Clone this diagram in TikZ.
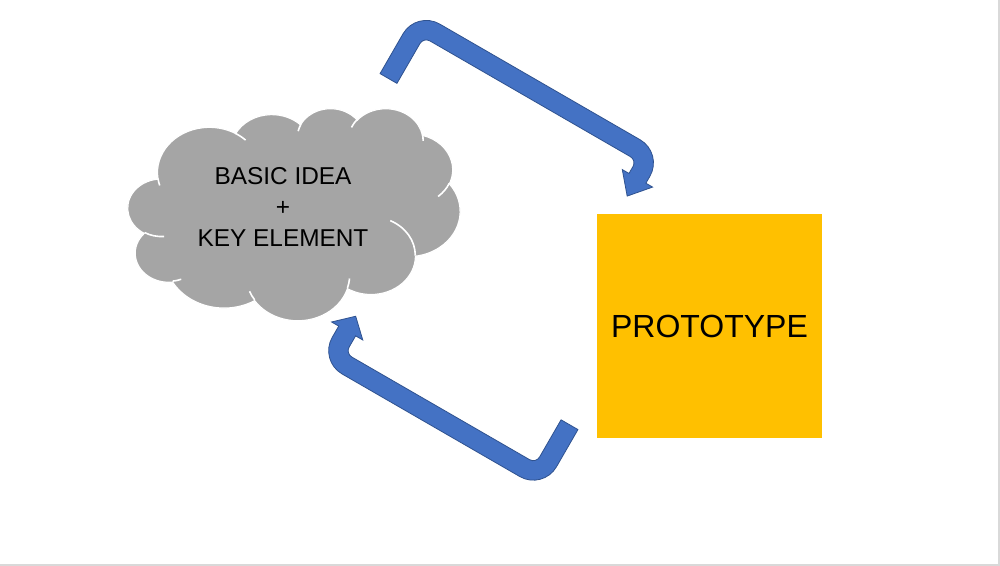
\documentclass[tikz,border=0pt]{standalone}
\usepackage{fontspec}
\setmainfont{Liberation Sans}
\definecolor{cloudgray}{HTML}{A5A5A5}
\definecolor{protoyellow}{HTML}{FFC000}
\definecolor{arrowblue}{HTML}{4472C4}
\definecolor{arrowedge}{HTML}{2F528F}
\definecolor{slideedge}{HTML}{D9D9D9}
\tikzset{
  ooarc/.style n args={4}{x radius=#1pt, y radius=#2pt,
    start angle={atan2((#1)*sin(#3),(#2)*cos(#3))},
    delta angle={mod(atan2((#1)*sin((#3)+(#4)),(#2)*cos((#3)+(#4)))-atan2((#1)*sin(#3),(#2)*cos(#3))+720,360)}},
  cloudfill/.style={fill=cloudgray, draw=white, line width=0.6pt},
  cloudline/.style={draw=white, line width=0.8pt},
  arrowshape/.style={fill=arrowblue, draw=arrowedge, line width=0.4pt},
  labeltext/.style={font=\fontsize{12.2}{15.5}\selectfont, align=center, text=black},
  protobox/.style={fill=protoyellow, minimum width=112.5pt, minimum height=112pt, inner sep=0pt,
    font=\fontsize{16}{19}\selectfont},
}
% U-turn arrow: #1 origin, #2 rotation, #3 segment height, #4 head x, #5 head base, #6 tip, #7 head half width
\newcommand\uturnarrow[7]{%
  \begin{scope}[shift={#1}, rotate=#2]
    \path[arrowshape] (-9.75,0) -- (9.75,0) -- (9.75,#3-17) arc[start angle=180,end angle=90,radius=3.625pt]
      -- (#4-17,#3-9.75) arc[start angle=90,end angle=0,radius=3.625pt]
      -- (#4-9.75,#5) -- (#4-#7,#5) -- (#4,#6) -- (#4+#7,#5) -- (#4+9.75,#5)
      -- (#4+9.75,#3-17) arc[start angle=0,end angle=90,radius=13.375pt]
      -- (17,#3+9.75) arc[start angle=90,end angle=180,radius=13.375pt] -- cycle;
  \end{scope}}
\begin{document}
\begin{tikzpicture}[x=0.5pt, y=0.5pt]
\fill[white] (0,0) rectangle (1000,-566);
\useasboundingbox (0,0) rectangle (1000,-566);
\fill[slideedge] (998,0) rectangle (1000,-566);
\fill[slideedge] (0,-564) rectangle (1000,-566);

% cloud
\begin{scope}[shift={(128,-108)}, xscale=0.38426, yscale=-0.24537]
  \path[cloudfill] (39pt,143.7pt)
    arc[ooarc={67.53}{91.90}{-190.48748}{123.78053}]
    arc[ooarc={53.33}{72.67}{-144.10238}{89.94523}]
    arc[ooarc={43.65}{59.45}{-145.80792}{99.72302}]
    arc[ooarc={48.57}{65.95}{-130.98607}{117.24173}]
    arc[ooarc={53.33}{72.73}{-78.70888}{109.02692}]
    arc[ooarc={67.75}{92.20}{-46.26725}{130.269}]
    arc[ooarc={57.85}{78.67}{0.62502}{114.03333}]
    arc[ooarc={67.52}{92.15}{22.4516}{115.17255}]
    arc[ooarc={77.20}{105.43}{66.24263}{75.71102}]
    arc[ooarc={43.60}{59.18}{-274.94208}{146.73557}]
    arc[ooarc={43.45}{59.45}{-246.8285}{152.51885}] -- cycle;
  \path[cloudline] (46.93pt,261.77pt) arc[ooarc={43.45}{59.45}{86.742}{26.4295}];
  \path[cloudline] (69.28pt,348.99pt) arc[ooarc={43.60}{59.18}{73.61047}{11.44747}];
  \path[cloudline] (164.78pt,390.90pt) arc[ooarc={67.52}{92.15}{137.62415}{14.0811}];
  \path[cloudline] (288.27pt,347.51pt) arc[ooarc={67.52}{92.15}{6.45327}{15.99835}];
  \path[cloudline] (341.29pt,229.54pt) arc[ooarc={57.85}{78.67}{-70.29235}{70.91737}];
  \path[cloudline] (417.98pt,153.54pt) arc[ooarc={53.33}{72.73}{30.31803}{27.7515}];
  \path[cloudline] (383.24pt,54.26pt) arc[ooarc={48.57}{65.95}{-13.74433}{14.8589}];
  \path[cloudline] (290.78pt,39.52pt) arc[ooarc={48.57}{65.95}{-149.18145}{18.19537}];
  \path[cloudline] (221.41pt,47.20pt) arc[ooarc={43.65}{59.45}{-163.49427}{17.68635}];
  \path[cloudline] (140.00pt,51.92pt) arc[ooarc={67.53}{91.90}{-66.70695}{12.31935}];
  \path[cloudline] (41.27pt,157.89pt) arc[ooarc={67.53}{91.90}{157.65435}{11.85817}];
\end{scope}
\node[labeltext] (idea) at (283,-207) {BASIC IDEA\\+\\KEY ELEMENT};

% prototype
\node[protobox] (proto) at (709.5,-326) {PROTOTYPE};

% arrows
\uturnarrow{(388.5,-78.5)}{-30}{63}{265.5}{38}{17.5}{17.5}
\uturnarrow{(569.5,-424.7)}{150}{60}{239.4}{30}{13}{18}
\end{tikzpicture}
\end{document}
